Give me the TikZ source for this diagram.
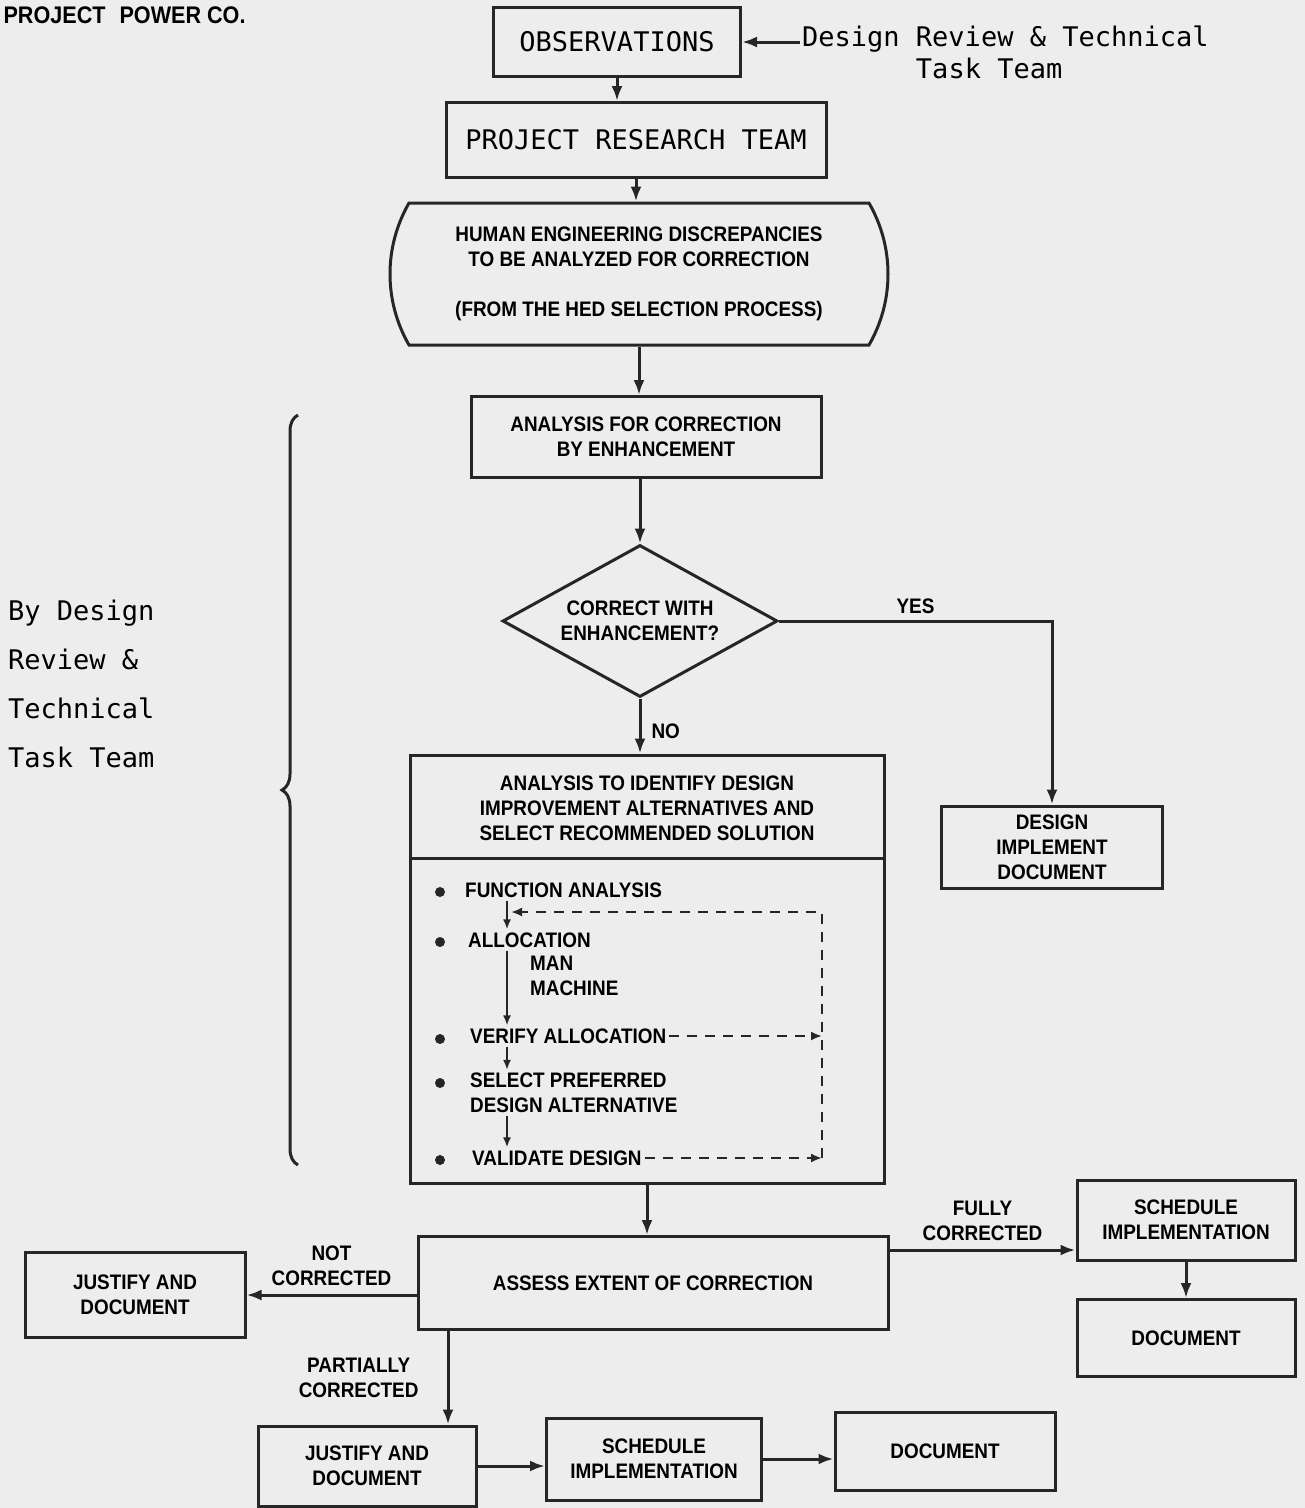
\documentclass[tikz,border=0pt]{standalone}
\usepackage{fontspec}
\usetikzlibrary{shapes.geometric,shapes.misc,arrows.meta,decorations.pathreplacing}
\newfontfamily\stencilfont[FakeStretch=0.9]{Liberation Sans}
\newfontfamily\typefont{DejaVu Sans Mono}
\newcommand{\stencil}{\stencilfont\bfseries\fontsize{21}{25}\selectfont}
\newcommand{\typed}{\typefont\fontsize{27}{32}\selectfont}

\begin{document}
\begin{tikzpicture}
	[x=1pt, y=-1pt, >={Latex[length=15pt,width=11pt]},
	box_style/.style={rectangle, draw=black!85, line width=3pt, align=center, font=\stencil, inner sep=0pt},
	oval_style/.style={rounded rectangle, rounded rectangle arc length=60, draw=black!85, line width=3pt, align=center, font=\stencil, inner sep=0pt},
	decision_style/.style={diamond, aspect=1.8, draw=black!85, line width=3pt, align=center, font=\stencil, inner sep=0pt},
	item_style/.style={anchor=west, align=left, font=\stencil, inner sep=3pt},
	bullet_style/.style={circle, fill=black!85, minimum size=10pt, inner sep=0pt},
	label_style/.style={align=center, font=\stencil, inner sep=2pt},
	note_style/.style={align=left, font=\typed, inner sep=2pt},
	arrow_style/.style={->, draw=black!85, line width=3pt},
	arrow_thin/.style={-{Latex[length=10pt,width=8pt]}, draw=black!85, line width=1.8pt},
	dash_style/.style={-{Latex[length=11pt,width=9pt]}, draw=black!85, line width=2.2pt, dash pattern=on 10pt off 8pt},
	brace_style/.style={decorate, decoration={brace, amplitude=16pt}, draw=black!85, line width=3pt}]

	\fill[black!7] (0,0) rectangle (1305,1508);

	\node[anchor=west, font=\stencilfont\bfseries\fontsize{24}{28}\selectfont] (company) at (0,15) {PROJECT\hspace{14pt}POWER CO.};

	% top of the chart
	\node[box_style, font=\typed, minimum width=247pt, minimum height=69pt] (obs) at (617,42) {OBSERVATIONS};
	\node[note_style, anchor=north west] (team) at (800,24) {Design Review \& Technical\\\phantom{Design }Task Team};
	\node[box_style, font=\typed, minimum width=380pt, minimum height=75pt] (prt) at (636,140) {PROJECT RESEARCH TEAM};
	\node[oval_style, minimum width=498pt, minimum height=142pt] (hed) at (639,274)
		{HUMAN ENGINEERING DISCREPANCIES\\TO BE ANALYZED FOR CORRECTION\\[25pt](FROM THE HED SELECTION PROCESS)};
	\node[box_style, minimum width=350pt, minimum height=81pt] (afc) at (646,437) {ANALYSIS FOR CORRECTION\\BY ENHANCEMENT};
	\node[decision_style, minimum width=275pt, minimum height=152pt] (dec) at (640,621) {CORRECT WITH\\ENHANCEMENT?};
	\node[box_style, minimum width=221pt, minimum height=82pt] (impl) at (1052,847) {DESIGN\\IMPLEMENT\\DOCUMENT};

	% analysis box
	\node[box_style, minimum width=474pt, minimum height=428pt] (alt) at (647,969) {};
	\coordinate (split) at (0,858);
	\draw[draw=black!85, line width=3pt] (alt.west |- split) -- (alt.east |- split);
	\node[label_style] (alt_head) at (647,808) {ANALYSIS TO IDENTIFY DESIGN\\IMPROVEMENT ALTERNATIVES AND\\SELECT RECOMMENDED SOLUTION};

	\node[item_style] (fa) at (462,890) {FUNCTION ANALYSIS};
	\node[item_style] (al) at (465,940) {ALLOCATION};
	\node[item_style] (mm) at (527,976) {MAN\\MACHINE};
	\node[item_style] (va) at (467,1036) {VERIFY ALLOCATION};
	\node[item_style] (sp) at (467,1093) {SELECT PREFERRED\\DESIGN ALTERNATIVE};
	\node[item_style] (vd) at (469,1158) {VALIDATE DESIGN};
	\foreach \y in {892,942,1039,1083,1160}
		\node[bullet_style] (bullet\y) at (440,\y) {};

	\coordinate (flow_x) at (507,0);
	\coordinate (loop_x) at (822,0);
	\coordinate (loop_top) at (822,912);
	\draw[arrow_thin] (fa.south -| flow_x) -- (al.north -| flow_x);
	\draw[arrow_thin] (al.south -| flow_x) -- (va.north -| flow_x);
	\draw[arrow_thin] (va.south -| flow_x) -- (sp.north -| flow_x);
	\draw[arrow_thin] (sp.south -| flow_x) -- (vd.north -| flow_x);
	\draw[dash_style] (va.east) -- (va.east -| loop_x);
	\draw[dash_style] (vd.east) -- (vd.east -| loop_x);
	\draw[dash_style, shorten >=4pt] (vd.east -| loop_x) -- (loop_top) -- (loop_top -| flow_x);

	% bottom of the chart
	\node[box_style, minimum width=470pt, minimum height=93pt] (assess) at (653,1283) {ASSESS EXTENT OF CORRECTION};
	\node[box_style, minimum width=220pt, minimum height=85pt] (just_left) at (135,1295) {JUSTIFY AND\\DOCUMENT};
	\node[box_style, minimum width=218pt, minimum height=80pt] (sched_right) at (1186,1220) {SCHEDULE\\IMPLEMENTATION};
	\node[box_style, minimum width=218pt, minimum height=77pt] (doc_right) at (1186,1338) {DOCUMENT};
	\node[box_style, minimum width=218pt, minimum height=80pt] (just_low) at (367,1466) {JUSTIFY AND\\DOCUMENT};
	\node[box_style, minimum width=215pt, minimum height=82pt] (sched_low) at (654,1459) {SCHEDULE\\IMPLEMENTATION};
	\node[box_style, minimum width=220pt, minimum height=78pt] (doc_low) at (945,1451) {DOCUMENT};

	\draw[arrow_style] (team.west |- obs.east) -- (obs.east);
	\draw[arrow_style] (obs.south) -- (obs.south |- prt.north);
	\draw[arrow_style] (prt.south) -- (prt.south |- hed.north);
	\draw[arrow_style] (hed.south) -- (hed.south |- afc.north);
	\draw[arrow_style] (dec.north |- afc.south) -- (dec.north);
	\draw[arrow_style] (dec.south) -- (dec.south |- alt.north) node[label_style, pos=0.6, right=8pt] {NO};
	\draw[arrow_style] (dec.east) -| (impl.north) node[label_style, pos=0.25, above=4pt] {YES};

	\coordinate (full_y) at (0,1250);
	\coordinate (part_x) at (448,0);
	\draw[arrow_style] (alt.south) -- (alt.south |- assess.north);
	\draw[arrow_style] (assess.west |- just_left.east) -- (just_left.east) node[label_style, midway, above=6pt] {NOT\\CORRECTED};
	\draw[arrow_style] (assess.east |- full_y) -- (sched_right.west |- full_y) node[label_style, midway, above=6pt] {FULLY\\CORRECTED};
	\draw[arrow_style] (sched_right.south) -- (doc_right.north);
	\draw[arrow_style] (assess.south -| part_x) -- (just_low.north -| part_x) node[label_style, midway, left=26pt] {PARTIALLY\\CORRECTED};
	\draw[arrow_style] (just_low.east) -- (just_low.east -| sched_low.west);
	\draw[arrow_style] (sched_low.east) -- (sched_low.east -| doc_low.west);

	% brace on the left
	\draw[brace_style] (298,1165) -- (298,415);
	\node[note_style, anchor=north west, font=\typefont\fontsize{27}{49}\selectfont] (brace_note) at (6,598) {By Design\\Review \&\\Technical\\Task Team};
\end{tikzpicture}
\end{document}
